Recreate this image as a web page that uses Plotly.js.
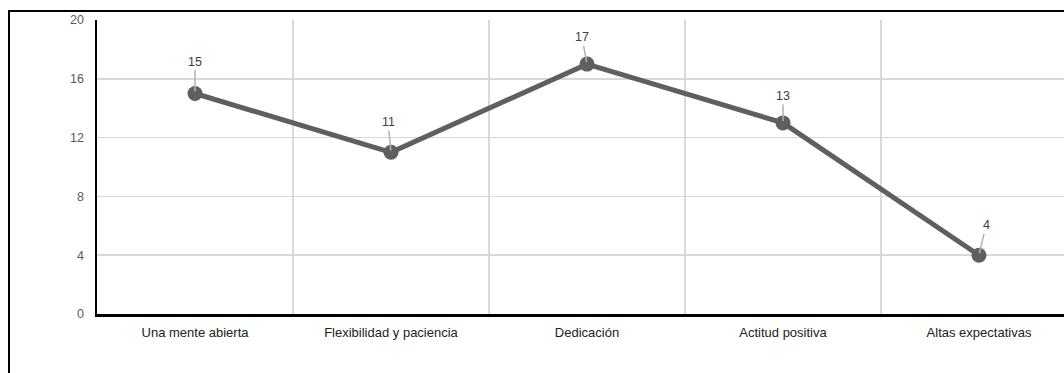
<!DOCTYPE html>
<html>
<head>
<meta charset="utf-8">
<script src="https://cdn.plot.ly/plotly-3.0.1.min.js"></script>
<style>
  html, body { margin: 0; padding: 0; width: 1064px; height: 373px; overflow: hidden; background: #fff; }
  #frame { position: absolute; left: 8px; top: 10px; border-left: 2px solid #000; border-top: 2px solid #000; }
  #chart { width: 1100px; height: 361px; }
</style>
</head>
<body>
<div id="frame"><div id="chart"></div></div>
<script>
// Qualities and how many times each was mentioned
const categories = ["Una mente abierta", "Flexibilidad y paciencia", "Dedicación", "Actitud positiva", "Altas expectativas"];
const counts = [15, 11, 17, 13, 4];
const yTicks = [0, 4, 8, 12, 16, 20];
// label offsets (pixels) for the value callouts
const labelDx = [0, -3, -5, 0, 7];
const labelDy = [-32, -30, -27, -27, -30];

const trace = {
  type: "scatter",
  mode: "lines+markers",
  x: categories,
  y: counts,
  line: { color: "#5f5f5f", width: 5 },
  marker: { color: "#5f5f5f", size: 15 },
  hoverinfo: "x+y"
};

const annotations = categories.map((c, i) => ({
  x: c, y: counts[i], xref: "x", yref: "y",
  text: String(counts[i]),
  showarrow: true, arrowhead: 0, arrowwidth: 1.5, arrowcolor: "#b3b3b3",
  ax: labelDx[i], ay: labelDy[i], standoff: 2,
  font: { family: "Liberation Sans, Arial, sans-serif", size: 12.5, color: "#404040" }
}));

const layout = {
  width: 1100, height: 361,
  margin: { l: 87, r: 33, t: 8, b: 59 },
  paper_bgcolor: "#fff", plot_bgcolor: "#fff",
  showlegend: false,
  font: { family: "Liberation Sans, Arial, sans-serif", size: 12, color: "#595959" },
  xaxis: {
    type: "category",
    range: [-0.5, 4.5],
    tickson: "boundaries",
    ticks: "",
    showgrid: true, gridcolor: "#d9d9d9", gridwidth: 1.5,
    showline: true, linecolor: "#000", linewidth: 2.5,
    tickfont: { size: 13, color: "#222" },
    ticklabelstandoff: 5,
    zeroline: false
  },
  yaxis: {
    range: [0, 20],
    tickvals: yTicks,
    ticktext: yTicks.map(String),
    ticks: "",
    showgrid: true, gridcolor: "#d9d9d9", gridwidth: 1.5,
    showline: true, linecolor: "#000", linewidth: 2.5,
    tickfont: { size: 12.5, color: "#595959" },
    zeroline: false,
    ticklabelstandoff: 8
  },
  annotations: annotations
};

Plotly.newPlot("chart", [trace], layout, { displayModeBar: false, staticPlot: true });
</script>
</body>
</html>
